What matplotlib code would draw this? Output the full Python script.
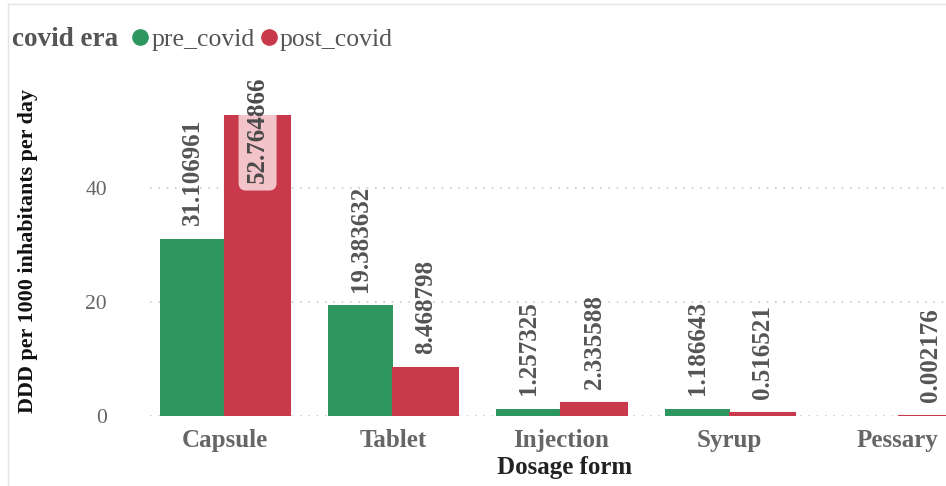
import matplotlib
matplotlib.use("Agg")
import matplotlib.pyplot as plt
from matplotlib.lines import Line2D
import numpy as np

# data
categories = ["Capsule", "Tablet", "Injection", "Syrup", "Pessary"]
pre_covid = [31.106961, 19.383632, 1.257325, 1.186643, np.nan]
post_covid = [52.764866, 8.468798, 2.335588, 0.516521, 0.002176]
series_names = ["pre_covid", "post_covid"]
yticks = [0, 20, 40]

GREEN = "#2e965f"
RED = "#c8394b"
PINK = "#f2c3c9"
GREY = "#666666"
SERIF = ["Liberation Serif", "DejaVu Serif"]

plt.rcParams["font.family"] = SERIF

fig = plt.figure(figsize=(9.46, 4.86), dpi=100)
ax = fig.add_axes([150 / 946, 70 / 486, 796 / 946, 301 / 486])

x = np.arange(len(categories))
w = 0.387
bars_pre = ax.bar(x - w / 2, pre_covid, width=w, color=GREEN, zorder=2)
bars_post = ax.bar(x + w / 2, post_covid, width=w, color=RED, edgecolor=RED,
                   linewidth=1.5, zorder=2)

ax.set_xlim(-0.446, 4.286)
ax.set_ylim(0, max(post_covid))

# dotted gridlines, no spines
ax.set_yticks(yticks)
ax.grid(axis="y", linestyle=(0, (1, 4)), color="#c8c8c8", linewidth=1.2, zorder=0)
for s in ax.spines.values():
    s.set_visible(False)
ax.tick_params(axis="y", length=0, pad=31, labelsize=15.5, labelcolor=GREY)
ax.tick_params(axis="x", length=0, pad=9)
ax.set_xticks(x)
ax.set_xticklabels(categories, fontsize=18, fontweight="bold", color=GREY)

ax.set_xlabel("Dosage form", fontsize=18, fontweight="bold", color="#222222")
ax.xaxis.set_label_coords((565 - 150) / 796, -0.132)
ax.set_ylabel("DDD per 1000 inhabitants per day", fontsize=15.8, fontweight="bold",
              color="#111111")
ax.yaxis.set_label_coords(-0.141, 0.548)

# data labels
def label_bars(bars, values):
    for b, v in zip(bars, values):
        if np.isnan(v):
            continue
        cx = b.get_x() + b.get_width() / 2
        if v == max(post_covid):
            t = ax.annotate(f"{v:.6f}", (cx, v), xytext=(0, -49),
                            textcoords="offset points", rotation=90,
                            ha="center", va="bottom", fontsize=18,
                            fontweight="bold", color="#4a4a4a",
                            annotation_clip=False, zorder=5,
                            bbox=dict(boxstyle="round,pad=0.3,rounding_size=0.3",
                                      fc=PINK, ec="none"))
            t.set_clip_on(False)
            bp = t.get_bbox_patch()
            bp.set_clip_box(ax.bbox)
            bp.set_clip_on(True)
        else:
            ax.annotate(f"{v:.6f}", (cx, v), xytext=(0, 10),
                        textcoords="offset points", rotation=90,
                        ha="center", va="bottom", fontsize=18,
                        fontweight="bold", color="#555555",
                        annotation_clip=False, zorder=5)

label_bars(bars_pre, pre_covid)
label_bars(bars_post, post_covid)

# legend
fig.text(12 / 946, 1 - 39 / 486, "covid era", fontsize=19.5, fontweight="bold",
         color="#555555", va="center", ha="left")
handles = [Line2D([], [], marker="o", linestyle="none", markersize=11,
                  markerfacecolor=c, markeredgecolor=c) for c in (GREEN, RED)]
leg = fig.legend(handles, series_names, loc="center left",
                 bbox_to_anchor=(128 / 946, 1 - 40 / 486), ncol=2, frameon=False,
                 fontsize=18.5, handletextpad=0.0, columnspacing=0.1,
                 handlelength=0.9, borderaxespad=0, borderpad=0)
for t in leg.get_texts():
    t.set_color("#555555")

# visual border
fig.add_artist(Line2D([8 / 946, 1], [1 - 4 / 486, 1 - 4 / 486],
                      transform=fig.transFigure, color="#e3e3e3", linewidth=1))
fig.add_artist(Line2D([8 / 946, 8 / 946], [0, 1 - 4 / 486],
                      transform=fig.transFigure, color="#e3e3e3", linewidth=1))

fig.savefig("out.png", dpi=100, facecolor="white")
